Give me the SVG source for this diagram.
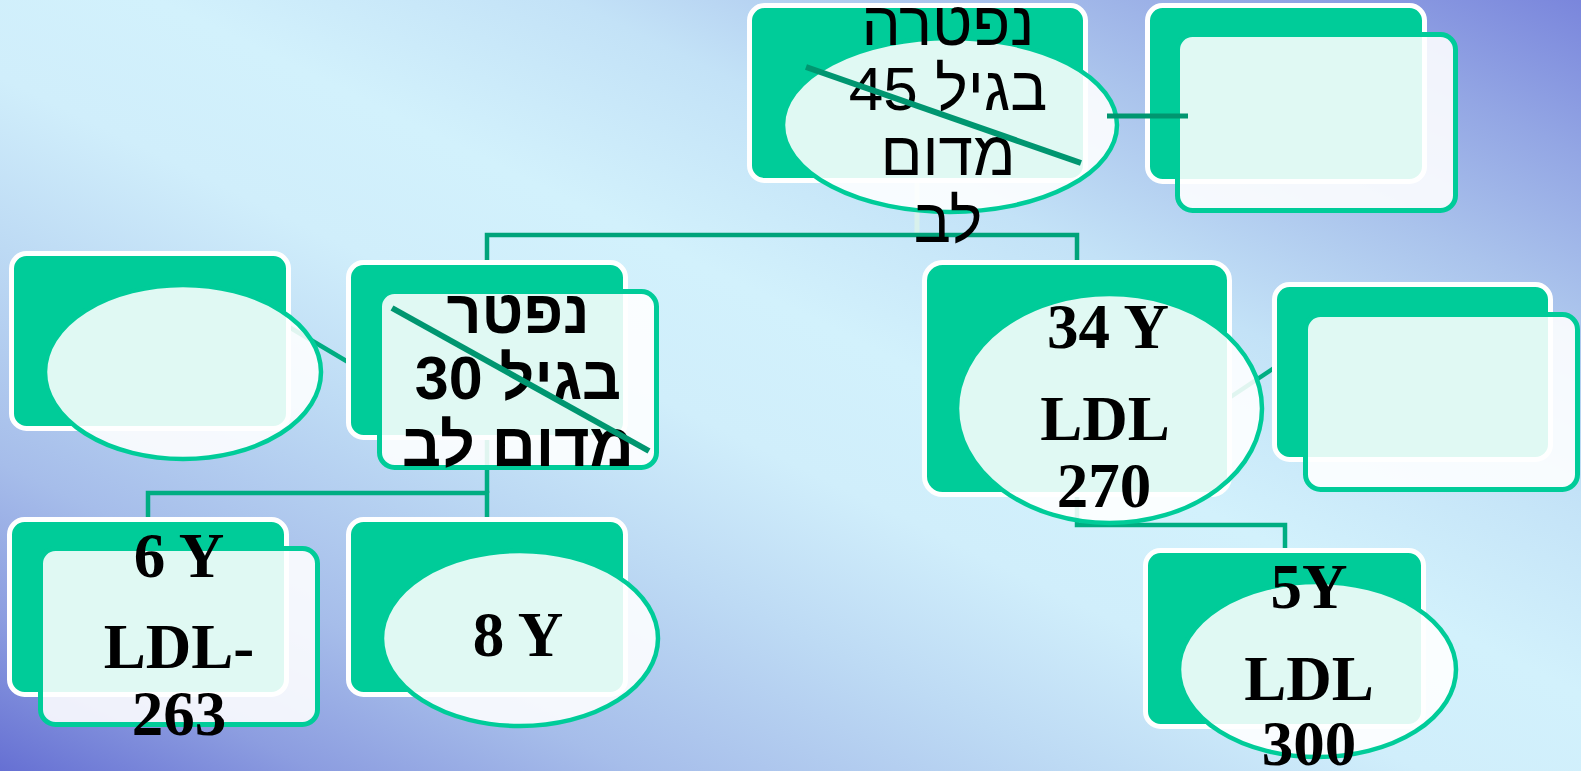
<svg xmlns="http://www.w3.org/2000/svg" width="1581" height="771" viewBox="0 0 1581 771">
<defs>
<linearGradient id="bg" gradientUnits="userSpaceOnUse" x1="1094" y1="-237" x2="487" y2="1008">
<stop offset="0" stop-color="#7a86dc"/>
<stop offset="0.1" stop-color="#93a6e4"/>
<stop offset="0.2" stop-color="#aac3ec"/>
<stop offset="0.32" stop-color="#c3e2f7"/>
<stop offset="0.45" stop-color="#d2f1fc"/>
<stop offset="0.55" stop-color="#d0eefb"/>
<stop offset="0.66" stop-color="#bddaf4"/>
<stop offset="0.8" stop-color="#a6bdea"/>
<stop offset="0.9" stop-color="#8c9de0"/>
<stop offset="1" stop-color="#6670d3"/>
</linearGradient>
<style>
.g{fill:#00cc99;stroke:#ffffff;stroke-width:5}
.o{fill:#ffffff;fill-opacity:0.88;stroke:#00cc99;stroke-width:5}
.e{fill:#ffffff;fill-opacity:0.88;stroke:#00cc99;stroke-width:4.5}
.c{fill:none;stroke:#00ad82;stroke-width:4.5}
.s{stroke:#009670;stroke-width:6}
.he{font-family:"Liberation Sans","DejaVu Sans","Noto Sans",sans-serif;fill:#000;text-anchor:middle}
.la{font-family:"Liberation Serif","Times New Roman",serif;font-weight:bold;font-size:63px;fill:#000;text-anchor:middle}
</style>
</defs>
<rect x="0" y="0" width="1581" height="771" fill="url(#bg)"/>
<g id="connectors">
<line x1="917" y1="183" x2="917" y2="235" stroke="#d8f1ec" stroke-width="5"/>
<polyline class="c" points="487,262 487,235 1077,235 1077,262" style="stroke:#00a37a"/>
<line class="c" x1="487" y1="262" x2="487" y2="493"/>
<polyline class="c" points="148,517 148,493 487,493 487,517"/>
<line class="c" x1="289" y1="327" x2="348" y2="362"/>
<polyline class="c" points="1077,497 1077,525 1285,525 1285,548"/>
<line class="c" x1="1229" y1="398" x2="1274" y2="368"/>
</g>
<g id="node-top">
<rect class="g" x="749.5" y="5.5" width="336" height="175" rx="15"/>
<ellipse class="e" cx="950" cy="125" rx="167" ry="87"/>
<text class="he" direction="rtl" font-size="62" x="948" y="45">נפטרה</text>
<text class="he" direction="rtl" font-size="62" x="948" y="110">בגיל 45</text>
<text class="he" direction="rtl" font-size="62" x="948" y="175">מדום</text>
<text class="he" direction="rtl" font-size="62" x="948" y="242">לב</text>
<line class="s" x1="806" y1="67" x2="1081" y2="163"/>
</g>
<g id="node-top-right">
<rect class="g" x="1147.5" y="5.5" width="277" height="176" rx="15"/>
<rect class="o" x="1177.5" y="34.5" width="278" height="176" rx="15"/>
</g>
<g id="connector-top-right">
<line x1="1107" y1="116" x2="1188" y2="116" stroke="#009670" stroke-width="5"/>
</g>
<g id="node-left">
<rect class="g" x="11.5" y="253.5" width="277" height="175" rx="15"/>
<ellipse class="e" cx="183" cy="372" rx="138" ry="87"/>
</g>
<g id="node-mid-left">
<rect class="g" x="348.5" y="262.5" width="277" height="175" rx="15"/>
<rect class="o" x="379.5" y="291.5" width="277" height="176" rx="15"/>
<text class="he" direction="rtl" font-size="61" font-weight="bold" x="518" y="333">נפטר</text>
<text class="he" direction="rtl" font-size="61" font-weight="bold" x="518" y="399">בגיל 30</text>
<text class="he" direction="rtl" font-size="61" font-weight="bold" x="518" y="466">מדום לב</text>
<line class="s" x1="392" y1="308" x2="649" y2="451"/>
</g>
<g id="node-6y">
<rect class="g" x="9.5" y="519.5" width="277" height="175" rx="15"/>
<rect class="o" x="40.5" y="548.5" width="277" height="176" rx="15"/>
<text class="la" x="179" y="577">6 Y</text>
<text class="la" x="179" y="668">LDL-</text>
<text class="la" x="179" y="735">263</text>
</g>
<g id="node-8y">
<rect class="g" x="348.5" y="519.5" width="277" height="175" rx="15"/>
<ellipse class="e" cx="520" cy="638.5" rx="138" ry="87.5"/>
<text class="la" x="518" y="656">8 Y</text>
</g>
<g id="node-34y">
<rect class="g" x="924.5" y="262.5" width="305" height="232" rx="18"/>
<ellipse class="e" cx="1109.5" cy="408.5" rx="152.5" ry="114.5"/>
<text class="la" x="1108" y="348">34 Y</text>
<text class="la" x="1105" y="440">LDL</text>
<text class="la" x="1104" y="507">270</text>
</g>
<g id="node-right">
<rect class="g" x="1274.5" y="284.5" width="276" height="175" rx="15"/>
<rect class="o" x="1305.5" y="314.5" width="272" height="175" rx="15"/>
</g>
<g id="node-5y">
<rect class="g" x="1145.5" y="550.5" width="278" height="176" rx="15"/>
<ellipse class="e" cx="1317.5" cy="669.5" rx="138.5" ry="87.5"/>
<text class="la" x="1309" y="608">5Y</text>
<text class="la" x="1309" y="700">LDL</text>
<text class="la" x="1309" y="765">300</text>
</g>
</svg>
